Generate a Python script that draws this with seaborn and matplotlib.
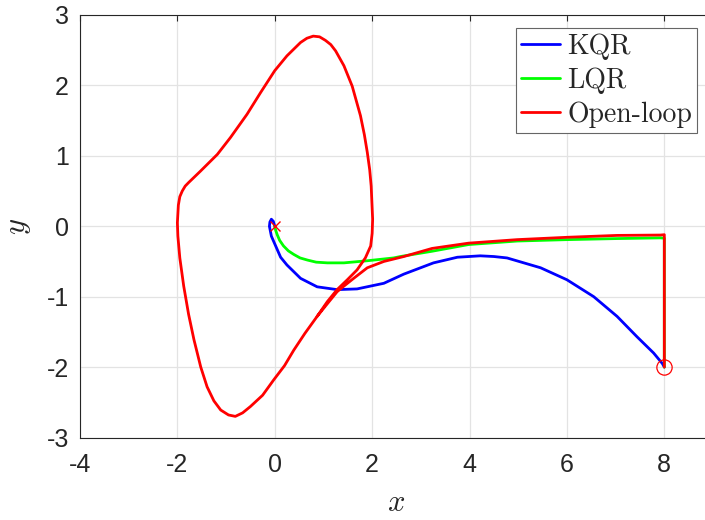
import matplotlib
matplotlib.use("Agg")
import matplotlib.pyplot as plt
import seaborn as sns
import pandas as pd

# Phase-plane trajectories from the initial state (8, -2) towards the origin
kqr_x = [8.00, 7.96, 7.78, 7.44, 7.03, 6.55, 6.00, 5.46, 4.77, 4.50, 4.22, 3.75, 3.26,
         2.65, 2.24, 1.69, 1.28, 0.87, 0.53, 0.25, 0.12, 0.05, -0.07, -0.11, -0.10, -0.07, -0.03, 0.00]
kqr_y = [-2.00, -1.95, -1.80, -1.57, -1.28, -1.00, -0.76, -0.59, -0.45, -0.43, -0.42, -0.44, -0.52,
         -0.68, -0.81, -0.89, -0.90, -0.86, -0.74, -0.55, -0.44, -0.33, -0.14, 0.00, 0.06, 0.10, 0.07, 0.00]

lqr_x = [8.00, 8.00, 7.92, 7.03, 6.00, 4.98, 3.98, 3.23, 2.58, 2.44, 1.90, 1.42,
         1.08, 0.85, 0.67, 0.52, 0.39, 0.28, 0.18, 0.10, 0.05, 0.02, 0.00]
lqr_y = [-2.00, -0.17, -0.165, -0.175, -0.19, -0.21, -0.26, -0.355, -0.43, -0.45, -0.49, -0.52,
         -0.52, -0.51, -0.48, -0.45, -0.40, -0.35, -0.28, -0.20, -0.12, -0.06, 0.00]

open_x = [8.00, 8.00, 7.92, 7.03, 6.00, 4.98, 3.98, 3.23, 2.65, 2.24, 1.90, 1.62, 1.42,
          1.28, 1.08, 0.87, 0.62, 0.39, 0.20, -0.02, -0.25, -0.50, -0.66, -0.81, -0.95, -1.11,
          -1.25, -1.39, -1.52, -1.66, -1.77, -1.87, -1.95, -1.99, -2.00, -1.98, -1.95, -1.90,
          -1.84, -1.77, -1.53, -1.18, -0.91, -0.57, -0.29, 0.00, 0.25, 0.53, 0.66, 0.79, 0.92,
          1.04, 1.15, 1.25, 1.42, 1.59, 1.76, 1.84, 1.90, 1.95, 1.98, 2.01, 2.00, 1.97, 1.86,
          1.69, 1.49, 1.28, 1.08, 0.87]
open_y = [-2.00, -0.12, -0.125, -0.13, -0.157, -0.19, -0.24, -0.315, -0.43, -0.50, -0.59, -0.74, -0.85,
          -0.93, -1.10, -1.28, -1.52, -1.76, -1.98, -2.18, -2.40, -2.56, -2.65, -2.70, -2.68, -2.61,
          -2.48, -2.28, -2.00, -1.61, -1.25, -0.85, -0.45, -0.14, 0.05, 0.30, 0.42, 0.50,
          0.57, 0.62, 0.78, 1.02, 1.26, 1.59, 1.90, 2.21, 2.42, 2.61, 2.67, 2.70, 2.69,
          2.64, 2.58, 2.49, 2.28, 1.99, 1.57, 1.30, 1.05, 0.80, 0.57, 0.10, -0.10, -0.28, -0.45,
          -0.62, -0.76, -0.90, -1.07, -1.28]

start_pt = (8.0, -2.0)
target_pt = (0.0, 0.0)

x_ticks = [-4, -2, 0, 2, 4, 6, 8]
y_ticks = [-3, -2, -1, 0, 1, 2, 3]

sns.set_style("white")
plt.rcParams["font.family"] = ["Liberation Sans", "DejaVu Sans"]
plt.rcParams["mathtext.fontset"] = "cm"

fig = plt.figure(figsize=(7.05, 5.2), dpi=100)
ax = fig.add_axes([80 / 705, (520 - 437.5) / 520, 633 / 705, 422.5 / 520])

series = [
    ("KQR", kqr_x, kqr_y, "#0000ff"),
    ("LQR", lqr_x, lqr_y, "#00ff00"),
    ("Open-loop", open_x, open_y, "#ff0000"),
]
for name, xs, ys, col in series:
    df = pd.DataFrame({"x": xs, "y": ys})
    sns.lineplot(data=df, x="x", y="y", sort=False, estimator=None, color=col,
                 linewidth=2.0, label=name, ax=ax)

ax.plot(*target_pt, marker="x", color="#ff0000", markersize=7, markeredgewidth=1.0,
        linestyle="none")
ax.plot(*start_pt, marker="o", markerfacecolor="none", markeredgecolor="#ff0000",
        markersize=11, markeredgewidth=0.9, linestyle="none")

ax.set_xlim(-4, 9)
ax.set_ylim(-3, 3)
ax.set_xticks(x_ticks)
ax.set_yticks(y_ticks)
ax.set_xticklabels([str(v) for v in x_ticks])
ax.set_yticklabels([str(v) for v in y_ticks])
ax.grid(True, color="#e3e3e3", linewidth=0.9)
ax.set_axisbelow(True)
ax.tick_params(direction="in", length=4.5, width=0.8, colors="#262626",
               labelsize=18, top=True, right=True)
ax.tick_params(axis="x", pad=11)
ax.tick_params(axis="y", pad=8)
for sp in ax.spines.values():
    sp.set_color("#262626")
    sp.set_linewidth(0.8)

ax.set_xlabel(r"$x$", fontsize=22, color="#262626", labelpad=8)
ax.set_ylabel(r"$y$", fontsize=22, color="#262626", labelpad=10)

leg = ax.legend(loc="upper right", bbox_to_anchor=(697 / 705, 1 - 28 / 520),
                bbox_transform=fig.transFigure, borderaxespad=0,
                prop={"family": "cmr10", "size": 20}, handlelength=1.4,
                handletextpad=0.25, labelspacing=0.27, borderpad=0.18,
                fancybox=False, framealpha=1, edgecolor="#666666")
leg.get_frame().set_linewidth(0.8)

fig.savefig("out.png", dpi=100)
